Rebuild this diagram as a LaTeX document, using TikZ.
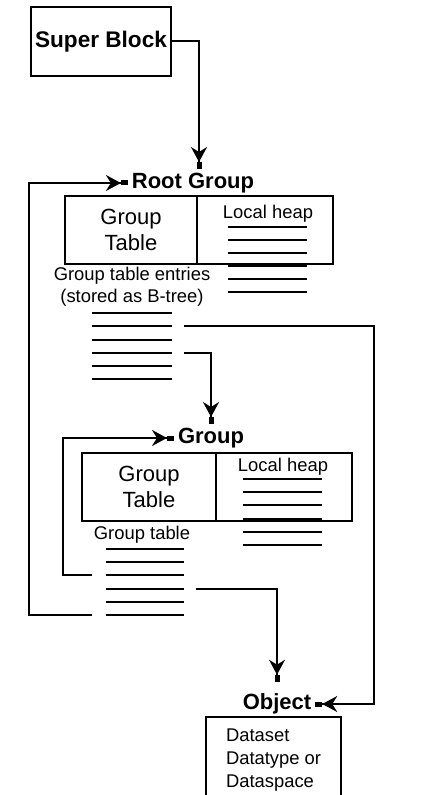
\documentclass[tikz,border=0pt]{standalone}
\usepackage{fontspec}
\setmainfont{Liberation Sans}
\usetikzlibrary{arrows.meta,positioning}

\begin{document}
\begin{tikzpicture}[
  x=0.5pt, y=-0.5pt, line width=1pt,
  title/.style={font=\fontsize{11}{13}\selectfont\bfseries, inner sep=1.5pt},
  cell/.style={rectangle, draw, outer sep=0pt, inner sep=0pt,
    minimum height=34pt, font=\fontsize{11}{13}\selectfont, align=center},
  small/.style={font=\fontsize{9.2}{11}\selectfont, inner sep=0pt, align=center},
  arr/.style={-{Stealth[length=7.5pt,width=8pt,inset=2.5pt]Rectangle[length=3.5pt,width=2.5pt]}}
]
  \useasboundingbox (0,0) rectangle (439,795);

  % super block
  \node[cell, font=\fontsize{11.3}{13}\selectfont\bfseries,
    minimum width=70pt, minimum height=34.5pt] (super) at (101,41.5) {Super Block};

  % root group
  \node[title] (root) at (193,183) {Root Group};
  \node[cell, minimum width=66pt] (rtab) at (131,230) {Group\\Table};
  \node[cell, minimum width=68pt, right=0pt of rtab] (rheap) {};
  \node[small] (rhl) at (268,214) {Local heap};
  \foreach \i in {0,...,5}
    \draw (228,227+13*\i) -- (307,227+13*\i);
  \node[small] (rlbl) at (132,287) {Group table entries\\(stored as B-tree)};
  \foreach \i in {0,...,5} {
    \coordinate (ra\i) at (92,313+13.3*\i);
    \coordinate (rb\i) at (172,313+13.3*\i);
    \draw (ra\i) -- (rb\i);
  }

  % group
  \node[title] (grp) at (211,438) {Group};
  \node[cell, minimum width=67pt] (gtab) at (149,487) {Group\\Table};
  \node[cell, minimum width=68pt, right=0pt of gtab] (gheap) {};
  \node[small] (ghl) at (283,467) {Local heap};
  \foreach \i in {0,...,5}
    \draw (243,479+13.2*\i) -- (322,479+13.2*\i);
  \node[small] (glbl) at (142,535) {Group table};
  \foreach \i in {0,...,5} {
    \coordinate (ga\i) at (106,549+13.2*\i);
    \coordinate (gb\i) at (184,549+13.2*\i);
    \draw (ga\i) -- (gb\i);
  }

  % object
  \node[title] (obj) at (277,704) {Object};
  \node[draw, anchor=north west, outer sep=0pt, inner xsep=10pt, inner ysep=6pt,
    align=left, font=\fontsize{9.2}{11.5}\selectfont]
    (objbox) at (206,717) {Dataset\\Datatype or\\Dataspace};

  % links
  \draw[arr] (super.east) -| ([xshift=3pt]root.north);
  \draw[arr] ([xshift=6pt]rb1) -- ++(190,0) |- (obj.east);
  \draw[arr] ([xshift=6pt]rb3) -| (grp.north);
  \draw[arr, shorten >=4pt] ([xshift=6pt]gb3) -| (obj.north);
  \draw[arr] ([xshift=-7pt]ga5) -- ++(-63,0) |- (root.west);
  \draw[arr] ([xshift=-7pt]ga2) -- ++(-29,0) |- (grp.west);
\end{tikzpicture}
\end{document}
